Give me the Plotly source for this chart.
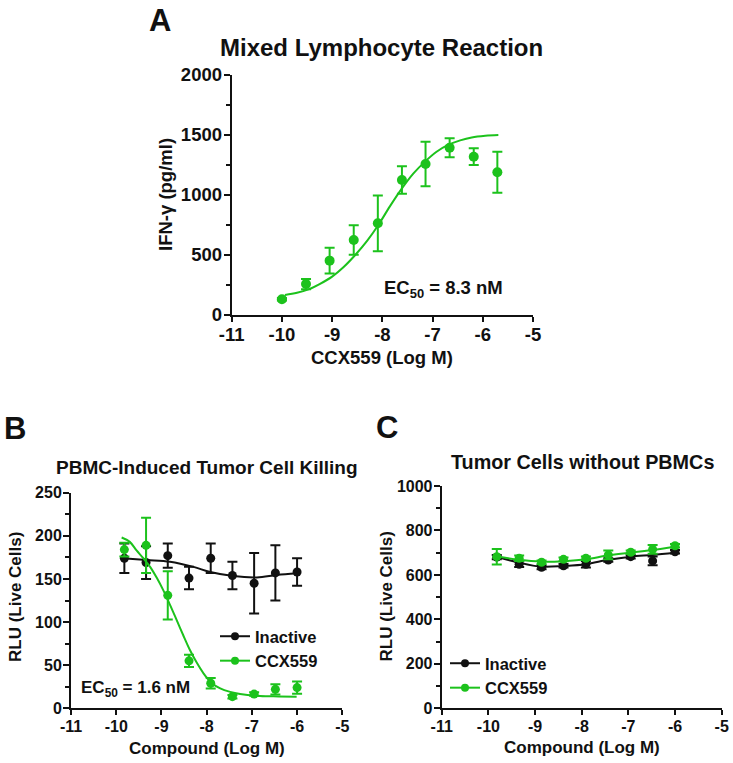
import plotly.graph_objects as go

W, H = 733, 763
GREEN = "#1cc21c"
BLACK = "#111111"
FONT = "Liberation Sans, Arial, sans-serif"

# ---------- Panel A: Mixed Lymphocyte Reaction ----------
a_x = [-10.0, -9.52, -9.05, -8.57, -8.09, -7.61, -7.14, -6.66, -6.18, -5.71]
a_y = [131, 258, 453, 625, 764, 1125, 1258, 1394, 1319, 1189]
a_err = [10, 43, 107, 122, 232, 114, 185, 79, 70, 171]
a_fit_x = [-9.94, -9.7, -9.47, -9.25, -9.0, -8.77, -8.54, -8.3, -8.08, -7.85, -7.61, -7.38, -7.15, -6.92, -6.69, -6.45, -6.22, -5.95, -5.69]
a_fit_y = [167, 185, 214, 258, 320, 400, 500, 620, 750, 905, 1055, 1180, 1278, 1360, 1417, 1455, 1480, 1494, 1500]

# ---------- Panel B: PBMC-Induced Tumor Cell Killing ----------
b_x = [-9.82, -9.34, -8.86, -8.39, -7.91, -7.43, -6.95, -6.48, -6.0]
b_inactive = [174, 169, 177, 151, 174, 154, 145, 157, 158]
b_inactive_err = [17, 19, 14, 13, 17, 16, 35, 32, 16]
b_ccx = [184, 189, 131, 55, 29, 13.5, 16.5, 22, 24]
b_ccx_err = [8, 32, 28, 7, 6, 2, 2, 6, 7]
b_fit_inactive_x = [-9.86, -9.33, -8.81, -8.29, -7.92, -7.41, -6.89, -6.45, -6.0]
b_fit_inactive_y = [174, 172, 170, 164, 158, 153.3, 151.8, 154.5, 156.5]
b_fit_ccx_x = [-9.88, -9.7, -9.55, -9.4, -9.25, -9.1, -8.96, -8.81, -8.66, -8.52, -8.37, -8.22, -8.07, -7.9, -7.7, -7.48, -7.26, -6.82, -6.4, -6.01]
b_fit_ccx_y = [198, 193, 183, 174, 164, 151, 137, 120, 102, 85, 67.6, 53, 40.6, 30, 23, 19, 16.6, 14.3, 13.8, 13.5]

# ---------- Panel C: Tumor Cells without PBMCs ----------
c_x = [-9.82, -9.34, -8.86, -8.39, -7.91, -7.43, -6.95, -6.48, -6.0]
c_inactive = [680, 648, 634, 641, 648, 667, 682, 663, 704]
c_inactive_err = [10, 12, 8, 8, 15, 8, 8, 20, 8]
c_ccx = [682, 675, 657, 670, 675, 690, 702, 715, 731]
c_ccx_err = [35, 12, 8, 8, 8, 20, 8, 20, 8]
c_fit_inactive = [682, 655, 637, 640, 648, 668, 682, 690, 700]
c_fit_ccx = [684, 668, 660, 662, 670, 688, 700, 712, 727]

x_ticks = [-11, -10, -9, -8, -7, -6, -5]


def px(x):
    return x / W


def py(y):
    return 1 - y / H


fig = go.Figure()


def add_points(xaxis, yaxis, x, y, err, color, size):
    fig.add_trace(go.Scatter(
        x=x, y=y, mode="markers", xaxis=xaxis, yaxis=yaxis, showlegend=False,
        marker=dict(color=color, size=size),
        error_y=dict(type="data", array=err, color=color, thickness=2, width=5),
        cliponaxis=False))


def add_fit(xaxis, yaxis, x, y, color):
    fig.add_trace(go.Scatter(
        x=x, y=y, mode="lines", xaxis=xaxis, yaxis=yaxis, showlegend=False,
        line=dict(color=color, width=2, shape="spline", smoothing=1.0),
        hoverinfo="skip"))


def add_legend(name, color, legend):
    fig.add_trace(go.Scatter(
        x=[None], y=[None], mode="lines+markers", name=name, legend=legend,
        xaxis="x2", yaxis="y2",
        line=dict(color=color, width=2), marker=dict(color=color, size=8)))


# Panel A
add_fit("x", "y", a_fit_x, a_fit_y, GREEN)
add_points("x", "y", a_x, a_y, a_err, GREEN, 10)

# Panel B
add_fit("x2", "y2", b_fit_inactive_x, b_fit_inactive_y, BLACK)
add_points("x2", "y2", b_x, b_inactive, b_inactive_err, BLACK, 9)
add_fit("x2", "y2", b_fit_ccx_x, b_fit_ccx_y, GREEN)
add_points("x2", "y2", b_x, b_ccx, b_ccx_err, GREEN, 9)
add_legend("Inactive", BLACK, "legend")
add_legend("CCX559", GREEN, "legend")

# Panel C
add_fit("x3", "y3", c_x, c_fit_inactive, BLACK)
add_points("x3", "y3", c_x, c_inactive, c_inactive_err, BLACK, 9)
add_fit("x3", "y3", c_x, c_fit_ccx, GREEN)
add_points("x3", "y3", c_x, c_ccx, c_ccx_err, GREEN, 9)
add_legend("Inactive", BLACK, "legend2")
add_legend("CCX559", GREEN, "legend2")


def axis_common(fs):
    return dict(
        showline=True, linecolor=BLACK, linewidth=2, mirror=False,
        ticks="outside", tickwidth=2, tickcolor=BLACK,
        showgrid=False, zeroline=False, fixedrange=True, automargin=False,
        tickfont=dict(family=FONT, size=fs, color=BLACK, weight="bold"),
    )


def xaxis(domain, anchor, fs):
    d = axis_common(fs)
    d.update(domain=domain, anchor=anchor, range=[-11, -5], ticklen=5,
             ticklabelstandoff=-3,
             tickvals=x_ticks, ticktext=[str(t) for t in x_ticks])
    return d


def yaxis(domain, anchor, rng, dtick, minor, fs):
    d = axis_common(fs)
    d.update(domain=domain, anchor=anchor, range=rng, dtick=dtick, tick0=0,
             ticklen=6, ticklabelstandoff=-2,
             minor=dict(ticks="outside", ticklen=4, tickwidth=2, tickcolor=BLACK, dtick=minor))
    return d


fig.update_layout(
    width=W, height=H, margin=dict(l=0, r=0, t=0, b=0, autoexpand=False),
    paper_bgcolor="white", plot_bgcolor="white",
    xaxis=xaxis([px(231.7), px(533)], "y", 18.5),
    yaxis=yaxis([py(315), py(75)], "x", [0, 2000], 500, 250, 18.5),
    xaxis2=xaxis([px(71), px(342.3)], "y2", 16),
    yaxis2=yaxis([py(708.3), py(492.7)], "x2", [0, 250], 50, 25, 16),
    xaxis3=xaxis([px(441.7), px(721.7)], "y3", 16),
    yaxis3=yaxis([py(708.3), py(486)], "x3", [0, 1000], 200, 100, 16),
    legend=dict(x=px(215), y=py(619), xanchor="left", yanchor="top",
                bgcolor="rgba(0,0,0,0)", itemwidth=30, tracegroupgap=0,
                font=dict(family=FONT, size=16.5, color=BLACK, weight="bold")),
    legend2=dict(x=px(445), y=py(646), xanchor="left", yanchor="top",
                 bgcolor="rgba(0,0,0,0)", itemwidth=30, tracegroupgap=0,
                 font=dict(family=FONT, size=16.5, color=BLACK, weight="bold")),
)


def text(s, x, y, size, angle=0, xanchor="center"):
    fig.add_annotation(text=s, x=px(x), y=py(y), xref="paper", yref="paper",
                       xanchor=xanchor, yanchor="middle", showarrow=False, textangle=angle,
                       font=dict(family=FONT, size=size, color=BLACK, weight="bold"))


# Panel letters
text("A", 160, 20, 31)
text("B", 15, 428, 31)
text("C", 387, 427, 31)

# Titles
text("Mixed Lymphocyte Reaction", 381, 47, 24)
text("PBMC-Induced Tumor Cell Killing", 207, 468, 19)
text("Tumor Cells without PBMCs", 582, 462, 19.8)

# Axis titles
text("IFN-γ (pg/ml)", 165, 195, 18.5, angle=-90)
text("CCX559 (Log M)", 382, 357, 18.5)
text("RLU (Live Cells)", 15, 597, 17, angle=-90)
text("Compound (Log M)", 207, 748, 17)
text("RLU (Live Cells)", 385.5, 597, 17, angle=-90)
text("Compound (Log M)", 582, 747, 17)

# EC50 labels
text("EC<sub>50</sub> = 8.3 nM", 443, 289, 18.5)
text("EC<sub>50</sub> = 1.6 nM", 135, 689, 17)

fig.write_html(
    "out.html",
    config={"displayModeBar": False},
    post_script="document.body.style.margin='0px';document.body.style.padding='0px';",
)
